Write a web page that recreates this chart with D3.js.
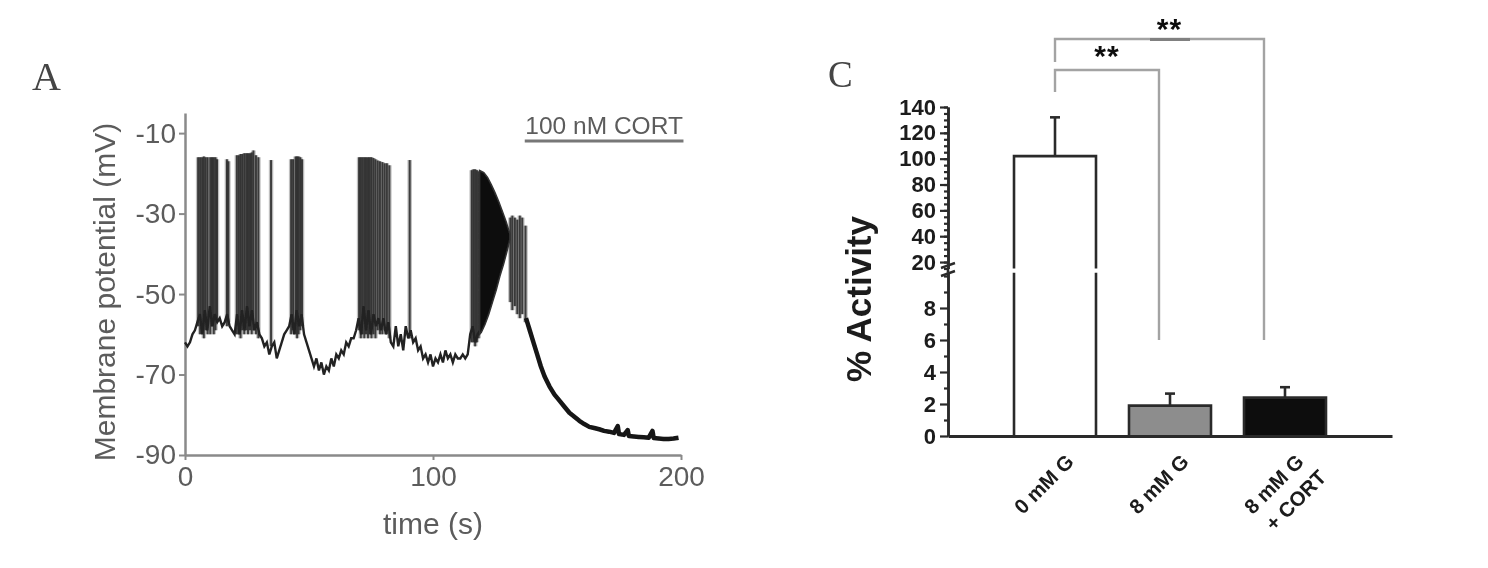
<!DOCTYPE html>
<html>
<head>
<meta charset="utf-8">
<script src="https://cdn.jsdelivr.net/npm/d3@7"></script>
<style>
  body { margin: 0; background: #fff; }
  svg { display: block; }
</style>
</head>
<body>
<svg width="1488" height="568"></svg>
<script>
"use strict";

// ---- panel A : membrane potential trace ----
// resting trace [time s, mV]
const baseTrace = [
  [0,-62],[1,-63],[2,-62],[3,-60],[4,-59],[5,-57],[6,-55],[7,-60],[8,-54],[9,-59],
  [10,-53],[11,-58],[12,-55],[13,-57],[14,-56],[15,-58],[16,-57],[17,-55],[18,-58],[19,-59],
  [20,-60],[21,-55],[22,-60],[23,-54],[24,-59],[25,-53],[26,-58],[27,-54],[28,-59],[29,-57],
  [30,-60],[31,-61],[32,-63],[33,-62],[34,-65],[35,-63],[36,-62],[37,-66],[38,-64],[39,-62],
  [40,-60],[41,-59],[42,-58],[43,-55],[44,-60],[45,-54],[46,-58],[47,-55],[48,-60],[49,-62],
  [50,-64],[51,-66],[52,-68],[53,-66],[54,-69],[55,-67],[56,-70],[57,-68],[58,-69],[59,-66],
  [60,-68],[61,-65],[62,-66],[63,-64],[64,-65],[65,-62],[66,-63],[67,-61],[68,-61],[69,-59],
  [70,-56],[71,-60],[72,-53],[73,-59],[74,-54],[75,-60],[76,-55],[77,-58],[78,-56],[79,-59],
  [80,-56],[81,-60],[82,-57],[83,-62],[84,-63],[85,-58],[86,-63],[87,-60],[88,-64],[89,-58],
  [90,-61],[91,-59],[92,-62],[93,-61],[94,-64],[95,-63],[96,-66],[97,-65],[98,-67],[99,-65],
  [100,-68],[101,-66],[102,-67],[103,-65],[104,-67],[105,-64],[106,-66],[107,-65],[108,-67],[109,-65],
  [110,-66],[111,-66],[112,-65],[113,-66],[114,-65],[115,-60],[116,-58],[117,-62],[118,-60],[119,-59]
];

// action potentials [time s, peak mV, trough mV]
const spikes = [
  [5.3,-16,-58],[6.1,-16,-60],[6.9,-16,-59],[7.6,-15.8,-61],[8.3,-16,-59],[9.1,-16,-60],
  [10.2,-16,-60],[10.9,-16,-58],[11.6,-16,-60],[12.3,-16,-59],[12.9,-16.5,-57],
  [16.9,-16.5,-58],[17.5,-17,-57],
  [20.9,-15.5,-60],[21.7,-15.5,-60],[22.4,-15.2,-61],[23.1,-15.2,-59],[23.9,-15,-60],[24.7,-15,-59],
  [25.4,-15,-60],[26.2,-15,-59],[26.9,-14.8,-60],[27.6,-14.3,-59],[28.6,-15.5,-60],[29.6,-16,-61],
  [34.7,-16.7,-63],
  [42.8,-16.5,-60],[43.6,-16.5,-59],[44.6,-15.8,-60],[45.2,-15.8,-61],[45.8,-15.8,-60],[46.5,-16,-59],[47.2,-16.5,-58],
  [70.2,-16,-59],[70.9,-16,-61],[71.6,-16,-60],[72.3,-16,-61],[73.0,-16,-60],[73.8,-16,-61],[74.5,-16,-60],
  [75.2,-16,-61],[76.0,-16.2,-60],[76.8,-16.5,-61],[77.7,-16.8,-59],[78.6,-17,-60],[79.6,-17.2,-60],
  [80.5,-17.5,-59],[81.4,-17.5,-60],[82.4,-18,-61],
  [90.6,-16.7,-61],
  [115.6,-19.2,-62],[116.3,-19,-62],[117.0,-19,-63],[117.7,-19.2,-62],[118.4,-19.5,-61],
  [131.2,-31,-52],[132.0,-30.5,-54],[133.0,-31,-53],[134.0,-31.5,-55],[135.0,-30.5,-56],[136.0,-31,-55],[137.3,-33,-57]
];

// dense burst after CORT: upper and lower envelope [time s, mV]
const burstTop = [[118.8,-19.3],[120.5,-19.8],[122,-21],[123.5,-22.8],[125,-24.8],[126.5,-27],[128,-29.5],[129.5,-32],[131,-35]];
const burstBottom = [[131,-36.5],[130,-39],[128.5,-42.5],[127,-45.5],[125.5,-49],[124,-52],[122.5,-55],[121,-57.5],[119.5,-59.5],[118.8,-60]];

// hyperpolarising tail [time s, mV]
const decayTrace = [
  [137.5,-56],[139,-59],[140.5,-62],[142,-65],[143.5,-68],[145,-70.5],[147,-73],[149,-75],[151,-76.5],
  [153,-78],[155,-79.5],[157,-80.5],[159,-81.5],[161,-82.3],[163,-83],[165,-83.3],[167,-83.6],[169,-84],
  [171,-84.2],[173,-84.5],[174.5,-82.8],[175,-84.8],[177,-85],[178.5,-83.8],[179,-85.3],[181,-85.4],
  [183,-85.5],[185,-85.6],[187,-85.7],[188.5,-84],[189,-85.8],[191,-85.9],[193,-86],[195,-86],[197,-85.9],[199,-85.7]
];

const xTicksA = [0, 100, 200];
const yTicksA = [-10, -30, -50, -70, -90];
const cortLabel = "100 nM CORT";
const cortRange = [137, 201];   // seconds covered by the bar

// ---- panel C : % activity ----
const groups = ["0 mM G", "8 mM G", "8 mM G\n+ CORT"];
const activity = [102, 1.9, 2.4];
const activityErr = [30, 0.75, 0.65];
const upperTicks = [20, 40, 60, 80, 100, 120, 140];
const upperMinor = d3.range(15, 141, 5);
const lowerTicks = [0, 2, 4, 6, 8];
const lowerMinor = [1, 3, 5, 7, 9, 10];
const sigPairs = [[0, 1], [0, 2]];
const sigLabels = ["**", "**"];

const barFill = ["#ffffff", "#8d8d8d", "#0b0b0b"];

const svg = d3.select("svg");
const defs = svg.append("defs");
defs.append("filter").attr("id", "soft")
  .append("feGaussianBlur").attr("stdDeviation", 0.6);
const root = svg.append("g").attr("filter", "url(#soft)");

// ================= panel A =================
const greyText = "#5c5c5c";
const greyAxis = "#8a8a8a";
const xA = d3.scaleLinear().domain([0, 200]).range([185, 681]);
const yA = d3.scaleLinear().domain([-90, -5]).range([455, 113]);

const gA = root.append("g").attr("font-family", "'Liberation Sans', Arial, sans-serif");

gA.append("text").text("A")
  .attr("x", 32).attr("y", 90)
  .attr("font-family", "'Liberation Serif', 'Times New Roman', serif")
  .attr("font-size", 40).attr("fill", "#444");

const axA = gA.append("g").attr("transform", `translate(${xA(0)},0)`)
  .call(d3.axisLeft(yA).tickValues(yTicksA).tickSize(6).tickSizeOuter(0).tickPadding(3).tickFormat((d) => String(d)));
const axB = gA.append("g").attr("transform", `translate(0,${yA(-90)})`)
  .call(d3.axisBottom(xA).tickValues(xTicksA).tickSize(5).tickSizeOuter(0).tickPadding(6));
[axA, axB].forEach((ax) => {
  ax.select(".domain").attr("stroke", greyAxis).attr("stroke-width", 2.5);
  ax.selectAll(".tick line").attr("stroke", greyAxis).attr("stroke-width", 2);
  ax.selectAll(".tick text").attr("fill", greyText).attr("font-size", 28)
    .attr("font-family", "'Liberation Sans', Arial, sans-serif");
});

gA.append("text").text("Membrane potential (mV)")
  .attr("transform", `translate(115,${(yA(-5) + yA(-90)) / 2 + 8}) rotate(-90)`)
  .attr("text-anchor", "middle").attr("font-size", 30).attr("fill", greyText);
gA.append("text").text("time (s)")
  .attr("x", xA(100)).attr("y", 534)
  .attr("text-anchor", "middle").attr("font-size", 30).attr("fill", greyText);

// drug bar
gA.append("text").text(cortLabel)
  .attr("x", (xA(cortRange[0]) + xA(cortRange[1])) / 2).attr("y", 134)
  .attr("text-anchor", "middle").attr("font-size", 24.5).attr("fill", greyText);
gA.append("line")
  .attr("x1", xA(cortRange[0])).attr("x2", xA(cortRange[1]))
  .attr("y1", 141).attr("y2", 141)
  .attr("stroke", "#777").attr("stroke-width", 3);

const lineA = d3.line().x((d) => xA(d[0])).y((d) => yA(d[1]));

// spikes: a soft grey halo first, then the dark core
const spikeG = gA.append("g");
spikeG.selectAll("line.halo").data(spikes).join("line").attr("class", "halo")
  .attr("x1", (d) => xA(d[0])).attr("x2", (d) => xA(d[0]))
  .attr("y1", (d) => yA(d[2])).attr("y2", (d) => yA(d[1]))
  .attr("stroke", "#8a8a8a").attr("stroke-width", 4.5).attr("stroke-opacity", 0.55);
spikeG.selectAll("line.core").data(spikes).join("line").attr("class", "core")
  .attr("x1", (d) => xA(d[0])).attr("x2", (d) => xA(d[0]))
  .attr("y1", (d) => yA(d[2])).attr("y2", (d) => yA(d[1]))
  .attr("stroke", "#262626").attr("stroke-width", 2).attr("stroke-opacity", 0.85);

gA.append("path").datum(baseTrace).attr("d", lineA)
  .attr("fill", "none").attr("stroke", "#222").attr("stroke-width", 2.4);

gA.append("path").datum(burstTop.concat(burstBottom)).attr("d", (d) => lineA(d) + "Z")
  .attr("fill", "#111").attr("stroke", "#333").attr("stroke-width", 1.5);

gA.append("path").datum(decayTrace).attr("d", lineA)
  .attr("fill", "none").attr("stroke", "#151515").attr("stroke-width", 4.5)
  .attr("stroke-linejoin", "round");

// ================= panel C =================
const dark = "#2b2b2b";
const xC = d3.scaleBand().domain(groups).range([948, 1392]).paddingInner(0.287).paddingOuter(0.574);
const yUp = d3.scaleLinear().domain([15, 140]).range([268.5, 107]);
const yLo = d3.scaleLinear().domain([0, 10.2]).range([436, 272.8]);
const yC = (v) => (v <= 10.2 ? yLo(v) : yUp(v));

const gC = root.append("g").attr("font-family", "'Liberation Sans', Arial, sans-serif");

gC.append("text").text("C")
  .attr("x", 828).attr("y", 87)
  .attr("font-family", "'Liberation Serif', 'Times New Roman', serif")
  .attr("font-size", 37).attr("fill", "#444");

// bars
groups.forEach((g, i) => {
  const x0 = xC(g), x1 = x0 + xC.bandwidth();
  const yTop = yC(activity[i]);
  gC.append("rect").attr("x", x0).attr("y", yTop).attr("width", x1 - x0).attr("height", yLo(0) - yTop)
    .attr("fill", barFill[i]);
  let d;
  if (activity[i] > 10.2) {
    d = `M${x0},${yLo(0)}V${yLo(10.2)}M${x0},${yUp(15)}V${yTop}H${x1}V${yUp(15)}M${x1},${yLo(10.2)}V${yLo(0)}`;
  } else {
    d = `M${x0},${yLo(0)}V${yTop}H${x1}V${yLo(0)}`;
  }
  gC.append("path").attr("d", d).attr("fill", "none").attr("stroke", dark).attr("stroke-width", 2.6);
  // error bar
  const cx = x0 + xC.bandwidth() / 2;
  const yErr = yC(activity[i] + activityErr[i]);
  gC.append("line").attr("x1", cx).attr("x2", cx).attr("y1", yTop).attr("y2", yErr)
    .attr("stroke", dark).attr("stroke-width", 2.6);
  gC.append("line").attr("x1", cx - 5).attr("x2", cx + 5).attr("y1", yErr).attr("y2", yErr)
    .attr("stroke", dark).attr("stroke-width", 2.6);
});

// y axis (two segments)
function styleC(ax) {
  ax.select(".domain").attr("stroke", dark).attr("stroke-width", 2.6);
  ax.selectAll(".tick line").attr("stroke", dark).attr("stroke-width", 2.2);
  ax.selectAll(".tick text").attr("fill", "#1a1a1a").attr("font-size", 22).attr("font-weight", "bold")
    .attr("font-family", "'Liberation Sans', Arial, sans-serif");
}
styleC(gC.append("g").attr("transform", "translate(948,0)")
  .call(d3.axisLeft(yUp).tickValues(upperMinor).tickSize(4).tickSizeOuter(0).tickFormat("")));
styleC(gC.append("g").attr("transform", "translate(948,0)")
  .call(d3.axisLeft(yUp).tickValues(upperTicks).tickSize(8).tickSizeOuter(0).tickPadding(4)));
styleC(gC.append("g").attr("transform", "translate(948,0)")
  .call(d3.axisLeft(yLo).tickValues(lowerMinor).tickSize(4).tickSizeOuter(0).tickFormat("")));
styleC(gC.append("g").attr("transform", "translate(948,0)")
  .call(d3.axisLeft(yLo).tickValues(lowerTicks).tickSize(8).tickSizeOuter(0).tickPadding(4)));
gC.append("line").attr("x1", 948).attr("x2", 948).attr("y1", yUp(15)).attr("y2", yLo(10.2))
  .attr("stroke", dark).attr("stroke-width", 2.6);
// break mark
gC.append("path").attr("d", "M941,268L955,263M941,276L955,271")
  .attr("stroke", dark).attr("stroke-width", 2.4).attr("fill", "none");

// x axis
const axXC = gC.append("g").attr("transform", `translate(0,${yLo(0)})`)
  .call(d3.axisBottom(xC).tickSize(0).tickFormat(""));
axXC.select(".domain").attr("stroke", dark).attr("stroke-width", 3);

groups.forEach((g) => {
  const cx = xC(g) + xC.bandwidth() / 2;
  const t = gC.append("text")
    .attr("transform", `translate(${cx + 20},463) rotate(-45)`)
    .attr("text-anchor", "end").attr("font-size", 20.5).attr("font-weight", "bold").attr("fill", "#1a1a1a");
  g.split("\n").forEach((line, k) => {
    t.append("tspan").attr("x", k * 5).attr("y", k * 27).text(line);
  });
});

gC.append("text").text("% Activity")
  .attr("transform", `translate(871,${299}) rotate(-90)`)
  .attr("text-anchor", "middle").attr("font-size", 35).attr("font-weight", "bold").attr("fill", "#1a1a1a");

// significance brackets
const bracketLayout = [
  { yH: 70, yL: 92, yR: 340, dxR: -11, starDx: 0, starY: 66 },
  { yH: 39, yL: 62, yR: 340, dxR: -21, starDx: 10, starY: 39 }
];
sigPairs.forEach((p, i) => {
  const L = bracketLayout[i];
  const xl = xC(groups[p[0]]) + xC.bandwidth() / 2;
  const xr = xC(groups[p[1]]) + xC.bandwidth() / 2 + L.dxR;
  gC.append("path").attr("d", `M${xl},${L.yL}V${L.yH}H${xr}V${L.yR}`)
    .attr("fill", "none").attr("stroke", "#a3a3a3").attr("stroke-width", 2.4);
  gC.append("text").text(sigLabels[i])
    .attr("x", (xl + xr) / 2 + L.starDx).attr("y", L.starY)
    .attr("text-anchor", "middle").attr("font-size", 30).attr("font-weight", "bold")
    .attr("letter-spacing", 1).attr("fill", "#111");
});
// darker patch on the outer bracket, as in the scan
gC.append("line").attr("x1", 1150).attr("x2", 1190).attr("y1", 39.5).attr("y2", 39.5)
  .attr("stroke", "#808080").attr("stroke-width", 3);
</script>
</body>
</html>
